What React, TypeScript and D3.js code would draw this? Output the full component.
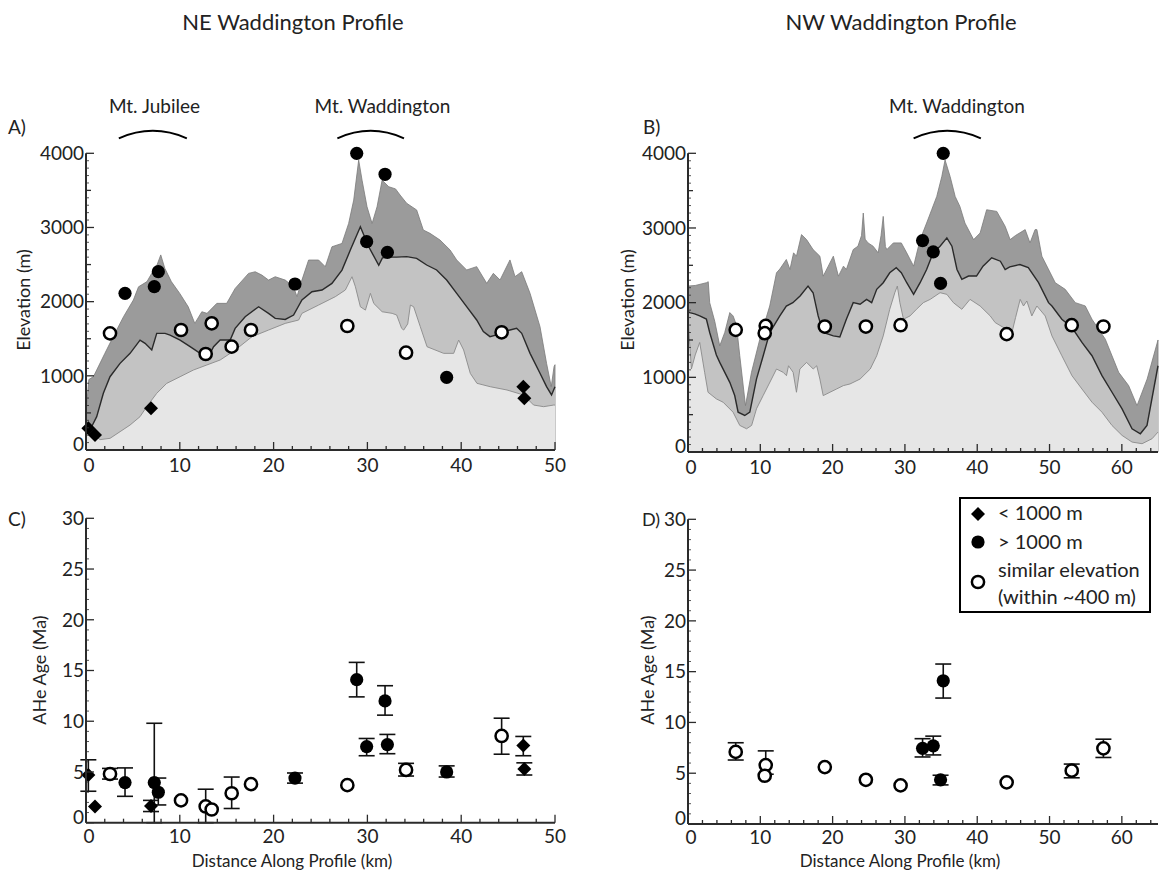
import React from "react";
import * as d3 from "d3";

type P = [number, number];
// ---------- NE profile (km, elevation m) ----------
const neMaxElev: P[] = [
  [0, 500], [0.3, 950], [0.8, 990], [2.0, 1300], [2.9, 1527], [4.0, 1797], [5.05, 2022], [5.6, 2200],
  [6.5, 2270], [7.0, 2380], [7.5, 2470], [7.97, 2630], [8.4, 2450], [9.1, 2270], [10.0, 2110],
  [10.9, 1930], [11.6, 1707], [12.35, 1864], [12.9, 1842], [13.95, 1977], [15.0, 1977], [15.9, 2178],
  [17.33, 2381], [18.04, 2403], [18.75, 2358], [19.46, 2291], [20.17, 2336], [21.24, 2291], [22.13, 2201],
  [22.49, 2067], [23.02, 2291], [23.73, 2561], [24.8, 2561], [25.51, 2471], [26.22, 2740], [27.29, 2785],
  [28.0, 3054], [28.54, 3369], [29.07, 3908], [29.43, 3638], [29.96, 3279], [30.5, 3054], [31.03, 3279],
  [31.57, 3638], [32.28, 3549], [33.0, 3520], [33.48, 3438], [34.19, 3326], [35.25, 3236], [35.96, 2966],
  [36.67, 2921], [37.74, 2831], [38.81, 2697], [39.52, 2562], [40.58, 2427], [41.65, 2472], [42.72, 2247],
  [43.43, 2382], [44.14, 2292], [45.2, 2562], [45.74, 2337], [46.45, 2404], [47.34, 2112], [48.4, 1663],
  [49.1, 1169], [49.6, 854], [49.9, 1124], [50, 1150],
];
const neMeanElev: P[] = [
  [0, 300], [0.6, 314], [1.14, 450], [1.85, 764], [2.56, 988], [3.63, 1168], [4.7, 1303], [5.76, 1482],
  [6.3, 1438], [7.01, 1348], [7.54, 1572], [8.43, 1572], [8.96, 1550], [10.03, 1482], [11.1, 1393],
  [12.17, 1303], [13.06, 1258], [13.6, 1393], [14.3, 1482], [15.37, 1482], [15.9, 1640], [16.97, 1796],
  [18.4, 1931], [19.46, 1841], [20.17, 1774], [21.24, 1760], [22.13, 1819], [23.02, 2022], [24.09, 2134],
  [25.16, 2157], [26.22, 2246], [27.29, 2426], [28.18, 2695], [29.25, 3010], [30.14, 2740], [31.21, 2490],
  [31.6, 2590], [32.28, 2600], [33.12, 2600], [34.19, 2607], [35.25, 2584], [36.32, 2494], [37.38, 2427],
  [38.45, 2292], [39.52, 2112], [40.58, 1933], [41.65, 1753], [42.36, 1596], [43.07, 1528], [43.78, 1551],
  [44.49, 1596], [45.2, 1618], [45.91, 1640], [46.45, 1573], [47.34, 1303], [48.4, 1034], [49.1, 854],
  [49.63, 742], [50, 854],
];
const neMinElev: P[] = [
  [0, 300], [0.6, 220], [1.5, 140], [2.56, 157], [3.63, 247], [4.7, 337], [5.76, 449], [6.47, 584],
  [7.54, 764], [8.6, 898], [10.03, 988], [11.45, 1078], [12.88, 1146], [14.3, 1213], [15.9, 1347],
  [17.69, 1527], [19.46, 1617], [21.24, 1707], [22.67, 1752], [23.02, 1842], [24.8, 1954], [26.58, 2067],
  [27.65, 2157], [28.36, 2336], [28.72, 2201], [29.25, 1931], [29.79, 1886], [30.32, 2112], [30.68, 1976],
  [31.57, 1864], [32.64, 1842], [33.12, 1820], [33.65, 1640], [33.87, 1617], [34.3, 1700], [34.58, 1954],
  [34.93, 1931], [35.64, 1662], [36.36, 1392], [38.13, 1303], [39.2, 1303], [39.73, 1482], [40.26, 1348],
  [40.97, 1033], [41.68, 899], [43.1, 853], [44.88, 809], [46.66, 741], [47.72, 606], [48.79, 584],
  [49.86, 606], [50, 606],
];

// ---------- NW profile ----------
const nwMaxElev: P[] = [
  [0, 2222], [1, 2230], [2.55, 2267], [2.8, 2280], [3.0, 2000], [3.7, 1750], [4.39, 1422], [5.08, 1600],
  [5.78, 1867], [6.24, 1822], [6.7, 1700], [7.16, 1289], [7.95, 621], [8.78, 1067], [9.93, 1511],
  [11.3, 1955], [12.24, 2400], [12.7, 2450], [13.6, 2578], [14.1, 2444], [14.6, 2667], [15.0, 2622],
  [15.7, 2911], [16.4, 2844], [17.3, 2711], [18.24, 2622], [18.7, 2355], [19.4, 2489], [20.1, 2622],
  [20.8, 2355], [21.5, 2489], [21.9, 2444], [22.85, 2711], [23.5, 2756], [24.0, 2900], [24.24, 3200],
  [24.5, 2850], [24.9, 2800], [25.6, 2756], [26.3, 2667], [26.7, 2900], [27.0, 3155], [27.3, 2750],
  [27.5, 2711], [28.4, 2800], [29.5, 2800], [30.25, 2667], [31.2, 2489], [32.1, 2844], [33.0, 3066],
  [33.7, 3244], [34.4, 3422], [35.1, 3689], [35.55, 3911], [36.25, 3689], [36.95, 3422], [37.6, 3289],
  [38.3, 3066], [39.5, 2844], [40.4, 2933], [41.3, 3244], [42.7, 3222], [43.86, 3022], [44.55, 2844],
  [45.3, 2900], [46.63, 2978], [47.3, 2800], [48.0, 2978], [48.25, 2978], [48.94, 2622], [50.79, 2267],
  [52.17, 2178], [53.56, 2000], [54.94, 1956], [55.87, 1778], [57.71, 1511], [59.56, 1067], [60.94, 889],
  [62.1, 621], [63.5, 977], [65, 1500],
];
const nwMeanElev: P[] = [
  [0, 1880], [0.23, 1867], [0.92, 1850], [1.62, 1822], [2.54, 1780], [3.0, 1600], [3.92, 1300],
  [4.39, 1200], [5.78, 933], [6.46, 756], [6.93, 533], [7.85, 489], [8.55, 533], [9.47, 977], [10.4, 1289],
  [11.3, 1600], [12.7, 1822], [13.6, 1955], [14.5, 2000], [15.5, 2089], [16.6, 2222], [17.3, 2133],
  [18.0, 1822], [18.7, 1600], [20.1, 1555], [21.0, 1540], [21.9, 1778], [22.85, 2000], [23.8, 1978],
  [24.7, 2044], [25.4, 2000], [26.1, 2178], [27.0, 2267], [27.9, 2400], [28.8, 2467], [29.5, 2400],
  [30.25, 2267], [31.2, 2111], [32.1, 2267], [33.0, 2444], [33.9, 2667], [34.86, 2756], [35.8, 2867],
  [36.5, 2756], [37.2, 2444], [37.87, 2311], [38.8, 2356], [39.9, 2356], [40.8, 2489], [42.0, 2600],
  [43.2, 2555], [43.86, 2444], [44.5, 2480], [45.9, 2511], [47.06, 2470], [48.48, 2267], [49.86, 2000],
  [50.33, 1955], [51.7, 1778], [53.1, 1667], [54.48, 1467], [55.87, 1289], [57.25, 1022], [58.64, 800],
  [60.03, 578], [61.41, 311], [62.56, 244], [63.48, 355], [65, 1155],
];
const nwMinElev: P[] = [
  [0, 1800], [0.47, 1111], [1.0, 1300], [1.62, 1467], [2.3, 1067], [2.77, 800], [3.92, 711], [4.85, 667],
  [6.23, 533], [7.16, 356], [8.1, 311], [8.8, 356], [9.47, 578], [10.39, 755], [11.55, 977], [12.24, 1111],
  [13.16, 1067], [13.62, 1022], [13.9, 1155], [14.54, 1067], [15.0, 800], [15.47, 1111], [16.4, 1200],
  [17.32, 1111], [17.8, 1155], [18.24, 977], [18.7, 755], [19.63, 800], [20.55, 844], [21.48, 889],
  [22.4, 911], [23.8, 977], [25.2, 1111], [26.1, 1289], [27.0, 1555], [27.9, 1911], [28.6, 2133],
  [28.95, 2222], [29.3, 2000], [29.8, 1778], [30.7, 1822], [31.6, 1911], [32.55, 2000], [33.5, 2044],
  [34.86, 2133], [35.8, 2111], [36.7, 2000], [37.87, 1911], [39.0, 2044], [40.4, 1955], [41.8, 1822],
  [42.48, 1733], [44.8, 1600], [45.3, 1800], [45.94, 2044], [46.4, 1955], [46.86, 2022], [47.55, 1822],
  [48.25, 1955], [49.4, 1822], [50.33, 1555], [51.7, 1289], [53.1, 1022], [54.48, 844], [55.87, 667],
  [57.25, 533], [58.64, 355], [60.03, 222], [61.41, 133], [62.8, 111], [64.18, 178], [65, 267],
];

// ---------- samples: [km, elevation m, AHe age Ma, age low, age high] ----------
type S = [number, number, number, number | null, number | null];
const neLowSamples: S[] = [
  [0.25, 292, 4.7, 3.1, 6.2], [0.96, 202, 1.6, null, null], [6.93, 562, 1.65, 1.1, 2.2],
  [46.62, 854, 7.6, 6.6, 8.5], [46.73, 697, 5.3, 4.7, 5.9],
];
const neHighSamples: S[] = [
  [4.16, 2112, 3.95, 2.6, 5.4], [7.28, 2202, 3.95, 0, 9.8], [7.71, 2404, 3.0, 1.75, 4.4],
  [22.28, 2238, 4.4, 3.9, 4.9], [28.86, 4000, 14.1, 12.4, 15.8], [29.92, 2809, 7.5, 6.6, 8.3],
  [31.88, 3717, 12.0, 10.6, 13.5], [32.13, 2665, 7.7, 6.8, 8.7], [38.45, 980, 5.0, 4.5, 5.6],
];
const neSimilarSamples: S[] = [
  [2.56, 1573, 4.8, 4.3, 5.35], [10.13, 1618, 2.2, null, null], [12.76, 1294, 1.6, 0, 3.3],
  [13.4, 1708, 1.3, null, null], [15.53, 1393, 2.9, 1.4, 4.5], [17.59, 1618, 3.8, null, null],
  [27.86, 1672, 3.7, null, null], [34.12, 1312, 5.2, 4.6, 5.85], [44.31, 1587, 8.55, 6.75, 10.3],
];
const nwLowSamples: S[] = [];
const nwHighSamples: S[] = [
  [32.44, 2831, 7.45, 6.6, 8.4], [33.92, 2680, 7.7, 6.8, 8.65], [34.93, 2258, 4.35, 3.85, 4.8],
  [35.3, 4000, 14.1, 12.4, 15.75],
];
const nwSimilarSamples: S[] = [
  [6.6, 1636, 7.1, 6.3, 8.0], [10.75, 1689, 5.8, 4.9, 7.2], [10.61, 1591, 4.75, null, null],
  [18.92, 1680, 5.6, null, null], [24.6, 1680, 4.35, null, null], [29.4, 1698, 3.8, null, null],
  [44.07, 1578, 4.1, null, null], [53.07, 1698, 5.25, 4.55, 5.9], [57.45, 1680, 7.45, 6.55, 8.35],
];

// ---------- labels ----------
type M = { name: string; from: number; to: number; labelKm: number };
const neMountains: M[] = [
  { name: "Mt. Jubilee", from: 3.5, to: 10.75, labelKm: 7.3 },
  { name: "Mt. Waddington", from: 26.8, to: 33.9, labelKm: 31.6 },
];
const nwMountains: M[] = [{ name: "Mt. Waddington", from: 31.2, to: 40.5, labelKm: 37.2 }];
const elevTicks = [0, 1000, 2000, 3000, 4000];
const ageTicks = [0, 5, 10, 15, 20, 25, 30];
const legendLabels = ["< 1000 m", "> 1000 m", "similar elevation", "(within ~400 m)"];

const FONT = "Lato, 'Open Sans', sans-serif";
const AXIS = "#2b2b2b";
const DIAMOND = "M0,-7L7,0L0,7L-7,0Z";

function Marker({ kind, x, y }: { kind: string; x: number; y: number }) {
  if (kind === "low") return <path d={DIAMOND} transform={`translate(${x},${y})`} fill="#000" />;
  if (kind === "high") return <circle cx={x} cy={y} r={6.6} fill="#000" />;
  return <circle cx={x} cy={y} r={6.1} fill="#fff" stroke="#000" strokeWidth={2.5} />;
}

function XAxis({ x, y0, kmMax, labelY }: { x: d3.ScaleLinear<number, number>; y0: number; kmMax: number; labelY: number }) {
  return (
    <g>
      <line x1={x(0)} x2={x(kmMax)} y1={y0} y2={y0} stroke={AXIS} strokeWidth={2} />
      {d3.range(0, kmMax + 0.01, 2).map((v) => (
        <line key={v} x1={x(v)} x2={x(v)} y1={y0} y2={y0 - (v % 10 === 0 ? 8 : 4)} stroke={AXIS} strokeWidth={1.3} />
      ))}
      {x.ticks(Math.floor(kmMax / 10)).filter((v) => v % 10 === 0).map((v) => (
        <text key={v} x={x(v) + (v === 0 ? 3 : 0)} y={labelY} textAnchor="middle" fontSize={19} fill="#222" fontFamily={FONT}>{v}</text>
      ))}
    </g>
  );
}

function ProfilePanel(props: {
  x0: number; x1: number; kmMax: number; yTop: number; yBot: number;
  maxD: P[]; meanD: P[]; minD: P[]; low: S[]; high: S[]; sim: S[]; mountains: M[];
}) {
  const { x0, x1, kmMax, yTop, yBot, maxD, meanD, minD, low, high, sim, mountains } = props;
  const x = d3.scaleLinear().domain([0, kmMax]).range([x0, x1]);
  const y = d3.scaleLinear().domain([0, 4000]).range([yBot, yTop]);
  const area = d3.area<P>().x((d) => x(d[0])).y0(y(0)).y1((d) => y(d[1]));
  const line = d3.line<P>().x((d) => x(d[0])).y((d) => y(d[1]));
  return (
    <g>
      <path d={area(maxD)!} fill="#9b9b9b" stroke="#7a7a7a" strokeWidth={0.8} />
      <path d={area(meanD)!} fill="#c3c3c3" />
      <path d={area(minD)!} fill="#e6e6e6" />
      <path d={line(minD)!} fill="none" stroke="#8a8a8a" strokeWidth={0.9} />
      <path d={line(meanD)!} fill="none" stroke="#2a2a2a" strokeWidth={1.4} />
      {low.map((s, i) => <Marker key={"l" + i} kind="low" x={x(s[0])} y={y(s[1])} />)}
      {high.map((s, i) => <Marker key={"h" + i} kind="high" x={x(s[0])} y={y(s[1])} />)}
      {sim.map((s, i) => <Marker key={"s" + i} kind="sim" x={x(s[0])} y={y(s[1])} />)}
      <line x1={x0} x2={x0} y1={y(0)} y2={y(4000)} stroke={AXIS} strokeWidth={2} />
      {d3.range(0, 4001, 100).map((v) => (
        <line key={v} x1={x0} x2={x0 + (v % 1000 === 0 ? 8 : v % 500 === 0 ? 5 : 3)} y1={y(v)} y2={y(v)} stroke={AXIS} strokeWidth={v % 500 === 0 ? 1.3 : 0.8} />
      ))}
      {elevTicks.map((v) => (
        <text key={v} x={x0 - 2} y={y(v) - (v === 0 ? 6 : 0)} dy="0.36em" textAnchor="end" fontSize={19} fill="#222" fontFamily={FONT}>{v}</text>
      ))}
      <XAxis x={x} y0={y(0)} kmMax={kmMax} labelY={y(0) + 22} />
      {mountains.map((m) => {
        const ya = yTop - 15;
        const yc = yTop - 30;
        return (
          <g key={m.name}>
            <path d={`M${x(m.from)},${ya}Q${(x(m.from) + x(m.to)) / 2},${yc} ${x(m.to)},${ya}`} fill="none" stroke="#000" strokeWidth={2} />
            <text x={x(m.labelKm)} y={yTop - 40} textAnchor="middle" fontSize={19} fill="#222" fontFamily={FONT}>{m.name}</text>
          </g>
        );
      })}
    </g>
  );
}

function AgePanel(props: { x0: number; x1: number; kmMax: number; yTop: number; yBot: number; low: S[]; high: S[]; sim: S[] }) {
  const { x0, x1, kmMax, yTop, yBot, low, high, sim } = props;
  const x = d3.scaleLinear().domain([0, kmMax]).range([x0, x1]);
  const y = d3.scaleLinear().domain([0, 30]).range([yBot, yTop]);
  const all: [S, string][] = [
    ...sim.map((s) => [s, "sim"] as [S, string]),
    ...high.map((s) => [s, "high"] as [S, string]),
    ...low.map((s) => [s, "low"] as [S, string]),
  ];
  return (
    <g>
      {all.filter(([s]) => s[3] !== null).map(([s], i) => {
        const cx = x(s[0]);
        const ylo = y(s[3] as number);
        const yhi = y(s[4] as number);
        return (
          <g key={"e" + i} stroke="#111" strokeWidth={1.6}>
            <line x1={cx} x2={cx} y1={ylo} y2={yhi} />
            <line x1={cx - 8} x2={cx + 8} y1={yhi} y2={yhi} />
            <line x1={cx - 8} x2={cx + 8} y1={ylo} y2={ylo} />
          </g>
        );
      })}
      {all.map(([s, k], i) => <Marker key={"m" + i} kind={k} x={x(s[0])} y={y(s[2])} />)}
      <line x1={x0} x2={x0} y1={y(0)} y2={y(30)} stroke={AXIS} strokeWidth={2} />
      {d3.range(0, 30.01, 1).map((v) => (
        <line key={v} x1={x0} x2={x0 + (v % 5 === 0 ? 8 : 3)} y1={y(v)} y2={y(v)} stroke={AXIS} strokeWidth={v % 5 === 0 ? 1.3 : 0.8} />
      ))}
      {ageTicks.map((v) => (
        <text key={v} x={x0 - 2} y={y(v) - (v === 0 ? 6 : 0)} dy="0.36em" textAnchor="end" fontSize={19} fill="#222" fontFamily={FONT}>{v}</text>
      ))}
      <XAxis x={x} y0={y(0)} kmMax={kmMax} labelY={y(0) + 20} />
    </g>
  );
}

export default function App() {
  const txt = { fontFamily: FONT, fill: "#222" } as const;
  return (
    <svg width={1160} height={877} style={{ position: "absolute", left: 0, top: 0, background: "#fff" }}>
      <rect width={1160} height={877} fill="#fff" />
      <text x={293} y={30} textAnchor="middle" fontSize={22} {...txt}>NE Waddington Profile</text>
      <text x={901} y={30} textAnchor="middle" fontSize={22} {...txt}>NW Waddington Profile</text>

      <ProfilePanel x0={86} x1={555} kmMax={50} yTop={153.3} yBot={450} maxD={neMaxElev} meanD={neMeanElev} minD={neMinElev}
        low={neLowSamples} high={neHighSamples} sim={neSimilarSamples} mountains={neMountains} />
      <ProfilePanel x0={688} x1={1158} kmMax={65} yTop={153.3} yBot={452} maxD={nwMaxElev} meanD={nwMeanElev} minD={nwMinElev}
        low={nwLowSamples} high={nwHighSamples} sim={nwSimilarSamples} mountains={nwMountains} />
      <AgePanel x0={86} x1={555} kmMax={50} yTop={518.3} yBot={822.7} low={neLowSamples} high={neHighSamples} sim={neSimilarSamples} />
      <AgePanel x0={688} x1={1158} kmMax={65} yTop={519.3} yBot={824} low={nwLowSamples} high={nwHighSamples} sim={nwSimilarSamples} />

      <text x={8} y={134} fontSize={19} {...txt}>A)</text>
      <text x={643} y={134} fontSize={19} {...txt}>B)</text>
      <text x={8} y={526} fontSize={19} {...txt}>C)</text>
      <text x={642} y={526} fontSize={18} {...txt}>D)</text>

      <text transform="translate(24,300) rotate(-90)" textAnchor="middle" dy="0.35em" fontSize={18} {...txt}>Elevation (m)</text>
      <text transform="translate(628,300) rotate(-90)" textAnchor="middle" dy="0.35em" fontSize={18} {...txt}>Elevation (m)</text>
      <text transform="translate(40,670) rotate(-90)" textAnchor="middle" dy="0.35em" fontSize={18} {...txt}>AHe Age (Ma)</text>
      <text transform="translate(648,670) rotate(-90)" textAnchor="middle" dy="0.35em" fontSize={18} {...txt}>AHe Age (Ma)</text>
      <text x={292} y={867} textAnchor="middle" fontSize={17} {...txt}>Distance Along Profile (km)</text>
      <text x={900} y={867} textAnchor="middle" fontSize={17} {...txt}>Distance Along Profile (km)</text>

      <g>
        <rect x={960} y={498} width={190} height={114} fill="#fff" stroke="#000" strokeWidth={2} />
        <Marker kind="low" x={978} y={514} />
        <Marker kind="high" x={978} y={542} />
        <Marker kind="sim" x={978} y={582} />
        <text x={998} y={520} fontSize={20} {...txt}>{legendLabels[0]}</text>
        <text x={998} y={549} fontSize={20} {...txt}>{legendLabels[1]}</text>
        <text x={998} y={577} fontSize={20} {...txt}>{legendLabels[2]}</text>
        <text x={998} y={604} fontSize={20} {...txt}>{legendLabels[3]}</text>
      </g>
    </svg>
  );
}
